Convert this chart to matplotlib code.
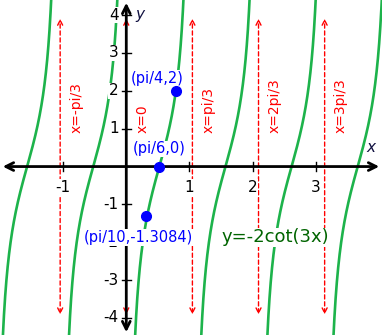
import numpy as np
import matplotlib
matplotlib.use("Agg")
import matplotlib.pyplot as plt

# Function y = -2cot(3x), plotted over the visible window
x_min, x_max = -2.0, 4.05
y_min, y_max = -4.45, 4.4

# Vertical asymptotes at x = k*pi/3
asym_x = [-np.pi / 3, 0, np.pi / 3, 2 * np.pi / 3, np.pi]
asym_labels = ["x=-pi/3", "x=0", "x=pi/3", "x=2pi/3", "x=3pi/3"]

# Marked points and their labels
pts_x = [np.pi / 4, np.pi / 6, np.pi / 10]
pts_y = [2, 0, -1.3084]
pts_labels = ["(pi/4,2)", "(pi/6,0)", "(pi/10,-1.3084)"]
pts_label_pos = [(0.49, 2.33), (0.52, 0.47), (0.19, -1.88)]

x_ticks = [-1, 1, 2, 3]
y_ticks = [-4, -3, -2, -1, 1, 2, 3, 4]

fig = plt.figure(figsize=(3.82, 3.35), dpi=100)
ax = fig.add_axes([0, 0, 1, 1])
ax.set_xlim(x_min, x_max)
ax.set_ylim(y_min, y_max)
ax.axis("off")

green = "#1db34b"
box = dict(facecolor="white", edgecolor="none", pad=0.5)

# curve, one branch per period
edges = [x_min] + [k * np.pi / 3 for k in range(-1, 4)] + [x_max]
for a, b in zip(edges[:-1], edges[1:]):
    xs = np.linspace(a + 1e-3, b - 1e-3, 600)
    ys = -2 / np.tan(3 * xs)
    ys[(ys > 5) | (ys < -5)] = np.nan
    ax.plot(xs, ys, color=green, lw=1.9, zorder=2)

# asymptotes
for xa, lab in zip(asym_x, asym_labels):
    ax.annotate("", xy=(xa, 3.98), xytext=(xa, -3.98),
                arrowprops=dict(arrowstyle="<->", color="red", lw=1,
                                linestyle=(0, (3, 2)), mutation_scale=9),
                zorder=1)
    ax.text(xa + 0.26, 0.88, lab, rotation=90, color="red", fontsize=10,
            ha="center", va="bottom", zorder=4)

# axes with arrows
ax.annotate("", xy=(x_max, 0), xytext=(x_min, 0),
            arrowprops=dict(arrowstyle="<->", color="black", lw=2,
                            mutation_scale=14), zorder=3)
ax.annotate("", xy=(0, y_max), xytext=(0, y_min),
            arrowprops=dict(arrowstyle="<->", color="black", lw=2,
                            mutation_scale=14), zorder=3)

for t in x_ticks:
    ax.plot([t, t], [-0.12, 0.12], color="black", lw=1, zorder=3)
    ax.text(t, -0.35, str(t), ha="center", va="top", fontsize=11, zorder=5, bbox=box)
for t in y_ticks:
    ax.plot([-0.07, 0.07], [t, t], color="black", lw=1, zorder=3)
    ax.text(-0.12, t, str(t), ha="right", va="center", fontsize=11, zorder=5, bbox=box)

ax.text(3.87, 0.5, "x", style="italic", fontsize=11, color="#101040", ha="center", va="center")
ax.text(0.22, 4.03, "y", style="italic", fontsize=11, color="#101040", ha="center", va="center")

# points
ax.plot(pts_x, pts_y, "o", color="blue", ms=7, zorder=7)
for lab, (lx, ly) in zip(pts_labels, pts_label_pos):
    ax.text(lx, ly, lab, color="blue", fontsize=10.5, ha="center", va="center",
            zorder=6, bbox=box)

ax.text(2.36, -1.87, "y=-2cot(3x)", color="#006400", fontsize=13,
        ha="center", va="center", zorder=6, bbox=box)

fig.savefig("out.png", dpi=100)
